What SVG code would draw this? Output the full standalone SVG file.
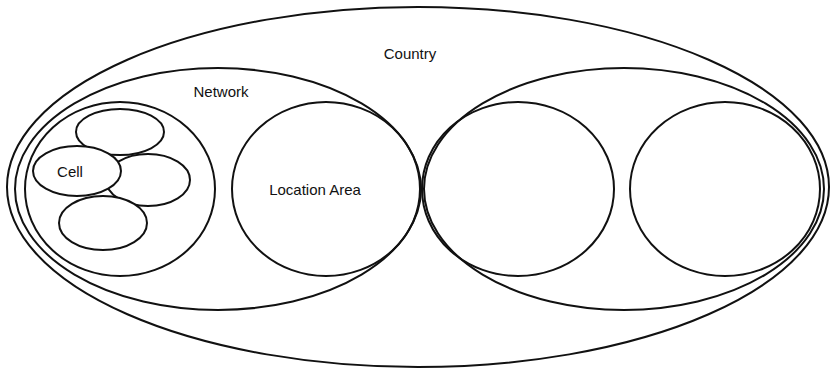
<svg xmlns="http://www.w3.org/2000/svg" width="832" height="371" viewBox="0 0 832 371">
<style>
.s{fill:none;stroke:#111;stroke-width:2}
.c{fill:#fff;stroke:#111;stroke-width:2}
.t{font-family:"Liberation Sans",Arial,sans-serif;font-size:15px;fill:#111}
</style>
<rect width="832" height="371" fill="#fff"/>
<g id="country">
<ellipse class="s" cx="418" cy="187" rx="411" ry="180"/>
<text class="t" x="410" y="59" text-anchor="middle">Country</text>
</g>
<g id="network-left">
<ellipse class="s" cx="218" cy="189" rx="203" ry="121"/>
<text class="t" x="221" y="97" text-anchor="middle">Network</text>
</g>
<g id="network-right">
<ellipse class="s" cx="624" cy="189" rx="200" ry="121"/>
</g>
<g id="cell-area">
<ellipse class="s" cx="120" cy="189" rx="95" ry="87"/>
</g>
<g id="location-area">
<ellipse class="s" cx="326" cy="189" rx="94" ry="87"/>
<text class="t" x="315" y="195" text-anchor="middle">Location Area</text>
</g>
<g id="location-area-2">
<ellipse class="s" cx="518" cy="189" rx="96" ry="87"/>
</g>
<g id="location-area-3">
<ellipse class="s" cx="725" cy="189" rx="95" ry="87"/>
</g>
<g id="cell-top">
<ellipse class="c" cx="120" cy="132" rx="44" ry="23"/>
</g>
<g id="cell-right">
<ellipse class="c" cx="148" cy="180" rx="42" ry="26"/>
</g>
<g id="cell-bottom">
<ellipse class="c" cx="103" cy="223" rx="44" ry="27"/>
</g>
<g id="cell">
<ellipse class="c" cx="77" cy="171" rx="44" ry="25"/>
<text class="t" x="70" y="177" text-anchor="middle">Cell</text>
</g>
</svg>
